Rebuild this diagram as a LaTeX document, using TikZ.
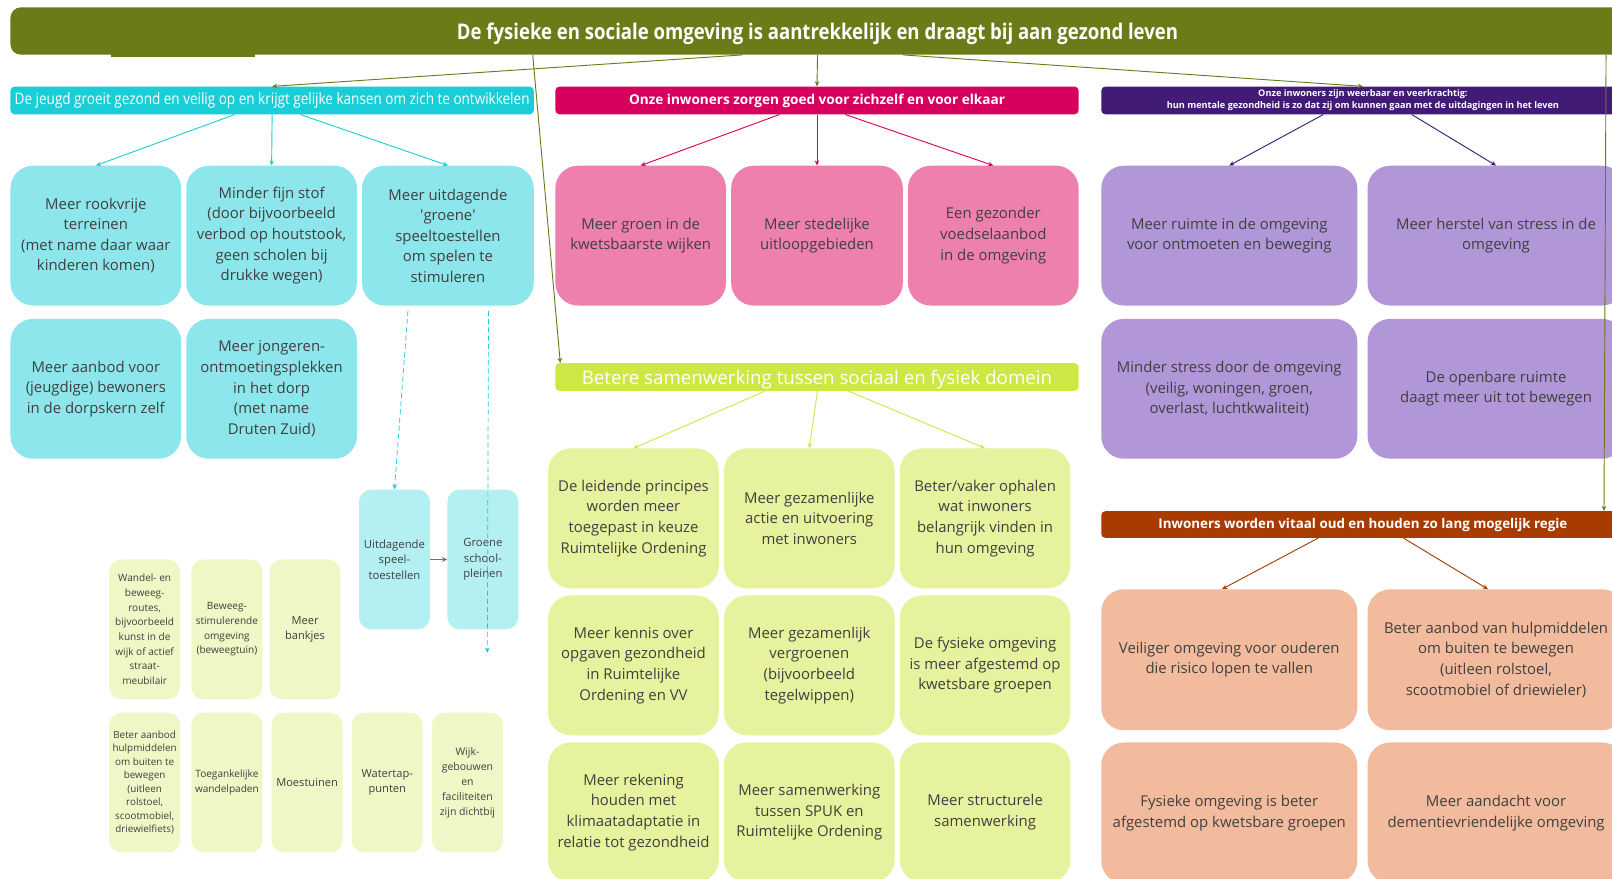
\documentclass[tikz,border=0pt]{standalone}
\usepackage{fontspec}
\setmainfont{Open Sans}
\newfontfamily\condfont{Open Sans}[FakeStretch=0.86]
\usetikzlibrary{arrows.meta}
\definecolor{olivec}{HTML}{6B7B17}
\definecolor{cyanh}{HTML}{19CED6}
\definecolor{cyanb}{HTML}{8DE6EB}
\definecolor{cyanl}{HTML}{B4F0F2}
\definecolor{pinkh}{HTML}{D8005F}
\definecolor{pinkb}{HTML}{EE80AE}
\definecolor{limeh}{HTML}{CFE745}
\definecolor{limeb}{HTML}{E6F29D}
\definecolor{limel}{HTML}{EFF7C6}
\definecolor{purph}{HTML}{421B76}
\definecolor{purpb}{HTML}{B196D8}
\definecolor{orh}{HTML}{A83C00}
\definecolor{orb}{HTML}{F2BB9E}
\definecolor{txt}{HTML}{404040}
\definecolor{grayarr}{HTML}{707070}
\begin{document}
\begin{tikzpicture}[x=1pt,y=-1pt,
  bx/.style={anchor=north west, inner sep=2pt, align=center, text=txt,
    font=\fontsize{14.5}{20}\selectfont, rounded corners=22pt},
  sbx/.style={anchor=north west, inner sep=1pt, align=center, text=txt,
    font=\fontsize{9.8}{14.3}\selectfont, rounded corners=12pt, fill=limel,
    minimum width=69, minimum height=136},
  hdr/.style={anchor=north west, inner sep=0pt, align=center, text=white,
    rounded corners=4pt, minimum height=27, minimum width=509},
  arr/.style={-{Stealth[length=5pt,width=4.5pt]}, line width=0.9pt},
]
\useasboundingbox (0,0) rectangle (1568,855);
\fill[white] (0,0) rectangle (1568,855);
\begin{scope}
\clip (0,0) rectangle (1568,855);

% top bar
\fill[olivec] (108,52) rectangle (248,55.5);
\node[anchor=north west, fill=olivec, rounded corners=10pt, minimum width=1570,
  minimum height=46, inner sep=0pt, text=white, text height=17pt, text depth=0pt,
  font=\condfont\bfseries\fontsize{21}{24}\selectfont] (top) at (10,7)
  {De fysieke en sociale omgeving is aantrekkelijk en draagt bij aan gezond leven};

% headers
\node[hdr, fill=cyanh, font=\condfont\fontsize{15.3}{17}\selectfont] (cyanH) at (10,84)
  {De jeugd groeit gezond en veilig op en krijgt gelijke kansen om zich te ontwikkelen};
\node[hdr, fill=pinkh, font=\bfseries\fontsize{13.2}{15}\selectfont] (pinkH) at (540,84)
  {Onze inwoners zorgen goed voor zichzelf en voor elkaar};
\node[hdr, fill=purph, font=\bfseries\fontsize{8.9}{12}\selectfont] (purpH) at (1071,84)
  {Onze inwoners zijn weerbaar en veerkrachtig:\\hun mentale gezondheid is zo dat zij om kunnen gaan met de uitdagingen in het leven};
\node[hdr, fill=limeh, text height=14.5pt, text depth=0pt, font=\fontsize{18.2}{20}\selectfont] (limeH) at (540,353)
  {Betere samenwerking tussen sociaal en fysiek domein};
\node[hdr, fill=orh, minimum height=26, font=\bfseries\fontsize{13}{15}\selectfont] (orH) at (1071,497)
  {Inwoners worden vitaal oud en houden zo lang mogelijk regie};

% cyan boxes
\node[bx, fill=cyanb, minimum width=166, minimum height=136] (c1) at (10,161)
  {Meer rookvrije\\terreinen\\(met name daar waar\\kinderen komen)};
\node[bx, fill=cyanb, minimum width=166, minimum height=136] (c2) at (181,161)
  {Minder fijn stof\\(door bijvoorbeeld\\verbod op houtstook,\\geen scholen bij\\drukke wegen)};
\node[bx, fill=cyanb, minimum width=167, minimum height=136] (c3) at (352,161)
  {Meer uitdagende\\\textquotesingle groene\textquotesingle\\speeltoestellen\\om spelen te\\stimuleren};
\node[bx, fill=cyanb, minimum width=166, minimum height=136] (c4) at (10,310)
  {Meer aanbod voor\\(jeugdige) bewoners\\in de dorpskern zelf};
\node[bx, fill=cyanb, minimum width=166, minimum height=136] (c5) at (181,310)
  {Meer jongeren-\\ontmoetingsplekken\\in het dorp\\(met name\\Druten Zuid)};

% light cyan
\node[sbx, fill=cyanl, font=\fontsize{11}{15}\selectfont] (u1) at (349,476)
  {Uitdagende\\speel-\\toestellen};
\node[sbx, fill=cyanl, font=\fontsize{11}{15}\selectfont] (g1) at (435,476)
  {Groene\\school-\\pleinen};

% small lime boxes
\node[sbx] (l1) at (106,544)
  {Wandel- en\\beweeg-\\routes,\\bijvoorbeeld\\kunst in de\\wijk of actief\\straat-\\meubilair};
\node[sbx] (l2) at (186,544)
  {Beweeg-\\stimulerende\\omgeving\\(beweegtuin)};
\node[sbx, font=\fontsize{10.8}{15}\selectfont] (l3) at (262,544)
  {Meer\\bankjes};
\node[sbx, font=\fontsize{9.6}{13.1}\selectfont] (l4) at (106,693)
  {Beter aanbod\\hulpmiddelen\\om buiten te\\bewegen\\(uitleen\\rolstoel,\\scootmobiel,\\driewielfiets)};
\node[sbx] (l5) at (186,693)
  {Toegankelijke\\wandelpaden};
\node[sbx, font=\fontsize{10.8}{15}\selectfont] (l6) at (264,693)
  {Moestuinen};
\node[sbx, font=\fontsize{10.8}{15}\selectfont] (l7) at (342,693)
  {Watertap-\\punten};
\node[sbx, font=\fontsize{10.2}{14.5}\selectfont] (l8) at (420,693)
  {Wijk-\\gebouwen\\en\\faciliteiten\\zijn dichtbij};

% pink boxes
\node[bx, fill=pinkb, minimum width=166, minimum height=136] (p1) at (540,161)
  {Meer groen in de\\kwetsbaarste wijken};
\node[bx, fill=pinkb, minimum width=167, minimum height=136] (p2) at (711,161)
  {Meer stedelijke\\uitloopgebieden};
\node[bx, fill=pinkb, minimum width=166, minimum height=136] (p3) at (883,161)
  {Een gezonder\\voedselaanbod\\in de omgeving};

% lime boxes
\node[bx, fill=limeb, minimum width=166, minimum height=136] (m1) at (533,436)
  {De leidende principes\\worden meer\\toegepast in keuze\\Ruimtelijke Ordening};
\node[bx, fill=limeb, minimum width=166, minimum height=136] (m2) at (704,436)
  {Meer gezamenlijke\\actie en uitvoering\\met inwoners};
\node[bx, fill=limeb, minimum width=166, minimum height=136] (m3) at (875,436)
  {Beter/vaker ophalen\\wat inwoners\\belangrijk vinden in\\hun omgeving};
\node[bx, fill=limeb, minimum width=166, minimum height=136] (m4) at (533,579)
  {Meer kennis over\\opgaven gezondheid\\in Ruimtelijke\\Ordening en VV};
\node[bx, fill=limeb, minimum width=166, minimum height=136] (m5) at (704,579)
  {Meer gezamenlijk\\vergroenen\\(bijvoorbeeld\\tegelwippen)};
\node[bx, fill=limeb, minimum width=166, minimum height=136] (m6) at (875,579)
  {De fysieke omgeving\\is meer afgestemd op\\kwetsbare groepen};
\node[bx, fill=limeb, minimum width=166, minimum height=136] (m7) at (533,722)
  {Meer rekening\\houden met\\klimaatadaptatie in\\relatie tot gezondheid};
\node[bx, fill=limeb, minimum width=166, minimum height=136] (m8) at (704,722)
  {Meer samenwerking\\tussen SPUK en\\Ruimtelijke Ordening};
\node[bx, fill=limeb, minimum width=166, minimum height=136] (m9) at (875,722)
  {Meer structurele\\samenwerking};

% purple boxes
\node[bx, fill=purpb, minimum width=249, minimum height=136] (q1) at (1071,161)
  {Meer ruimte in de omgeving\\voor ontmoeten en beweging};
\node[bx, fill=purpb, minimum width=250, minimum height=136] (q2) at (1330,161)
  {Meer herstel van stress in de\\omgeving};
\node[bx, fill=purpb, minimum width=249, minimum height=136] (q3) at (1071,310)
  {Minder stress door de omgeving\\(veilig, woningen, groen,\\overlast, luchtkwaliteit)};
\node[bx, fill=purpb, minimum width=250, minimum height=136] (q4) at (1330,310)
  {De openbare ruimte\\daagt meer uit tot bewegen};

% orange boxes
\node[bx, fill=orb, minimum width=249, minimum height=137] (o1) at (1071,573)
  {Veiliger omgeving voor ouderen\\die risico lopen te vallen};
\node[bx, fill=orb, minimum width=250, minimum height=137] (o2) at (1330,573)
  {Beter aanbod van hulpmiddelen\\om buiten te bewegen\\(uitleen rolstoel,\\scootmobiel of driewieler)};
\node[bx, fill=orb, minimum width=249, minimum height=137] (o3) at (1071,722)
  {Fysieke omgeving is beter\\afgestemd op kwetsbare groepen};
\node[bx, fill=orb, minimum width=250, minimum height=137] (o4) at (1330,722)
  {Meer aandacht voor\\dementievriendelijke omgeving};

% olive arrows
\draw[arr, olivec] ([xshift=-73]top.south) -- (cyanH.north);
\draw[arr, olivec] (top.south) -- (pinkH.north);
\draw[arr, olivec] ([xshift=83]top.south) -- (purpH.north);
\draw[arr, olivec] ([xshift=-277]top.south) -- ([xshift=5]limeH.north west);
\draw[arr, olivec] ([xshift=767]top.south) -- ([xshift=234.5]orH.north);

% cyan arrows
\draw[arr, cyanh] ([xshift=-36.5]cyanH.south) -- (c1.north);
\draw[arr, cyanh] (cyanH.south) -- (c2.north);
\draw[arr, cyanh] ([xshift=27.5]cyanH.south) -- (c3.north);
\draw[arr, cyanh, dash pattern=on 5pt off 3pt, line width=0.7pt, shorten <=5pt] ([xshift=-38.5]c3.south) -- (u1.north);
\coordinate (dashEnd) at (474,635);
\draw[arr, cyanh, dash pattern=on 5pt off 3pt, line width=0.7pt, shorten <=5pt] ([xshift=39.5]c3.south) -- (dashEnd);
\draw[arr, grayarr, line width=0.7pt] (u1.east) -- (g1.west);

% pink arrows
\draw[arr, pinkh] ([xshift=-36.5]pinkH.south) -- (p1.north);
\draw[arr, pinkh] (pinkH.south) -- (p2.north);
\draw[arr, pinkh] ([xshift=27.5]pinkH.south) -- (p3.north);

% lime arrows
\draw[arr, limeh] ([xshift=-50.5]limeH.south) -- (m1.north);
\draw[arr, limeh] ([xshift=0.5]limeH.south) -- (m2.north);
\draw[arr, limeh] ([xshift=30.5]limeH.south) -- (m3.north);

% purple arrows
\draw[arr, purph] ([xshift=-38.5]purpH.south) -- (q1.north);
\draw[arr, purph] ([xshift=47.5]purpH.south) -- (q2.north);

% orange arrows
\draw[arr, orh] ([xshift=-43.5]orH.south) -- ([xshift=-7]o1.north);
\draw[arr, orh] ([xshift=39.5]orH.south) -- ([xshift=-8]o2.north);
\end{scope}
\end{tikzpicture}
\end{document}
